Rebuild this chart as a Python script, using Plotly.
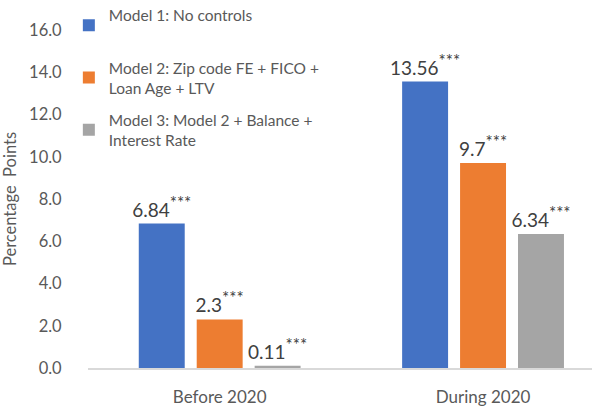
import plotly.graph_objects as go

categories = ["Before 2020", "During 2020"]
series_names = [
    "Model 1: No controls<br> ",
    "Model 2: Zip code FE + FICO +<br>Loan Age + LTV",
    "Model 3: Model 2 + Balance +<br>Interest Rate",
]
model1 = [6.84, 13.56]
model2 = [2.3, 9.7]
model3 = [0.11, 6.34]
label1 = ["6.84", "13.56"]
label2 = ["2.3", "9.7"]
label3 = ["0.11", "6.34"]
y_ticks = [0, 2, 4, 6, 8, 10, 12, 14, 16]
y_tick_text = ["0.0", "2.0", "4.0", "6.0", "8.0", "10.0", "12.0", "14.0", "16.0"]

colors = ["#4472C4", "#ED7D31", "#A5A5A5"]
FONT = "Lato, Carlito, Calibri, sans-serif"
TXT = "#595959"

fig = go.Figure()
for i, (name, vals, labs, col) in enumerate(zip(series_names, [model1, model2, model3],
                                                [label1, label2, label3], colors)):
    fig.add_trace(go.Bar(
        x=categories, y=vals, name=name,
        legendgroup="g%d" % i,
        marker=dict(color=col, line=dict(width=0)),
        text=[l + "<sup><span style='font-size:17px'>***</span></sup>" for l in labs],
        textposition="outside",
        constraintext="none",
        textfont=dict(family=FONT, size=19, color="#404040"),
        cliponaxis=False,
    ))

fig.update_layout(
    width=592, height=408,
    margin=dict(l=88, r=0, t=30, b=40, autoexpand=False),
    paper_bgcolor="white", plot_bgcolor="white",
    barmode="group", bargap=0.34, bargroupgap=0.207,
    font=dict(family=FONT, color=TXT, size=16),
    showlegend=True,
    legend=dict(
        x=-0.038, y=1.093, xanchor="left", yanchor="top",
        font=dict(family=FONT, size=15.5, color=TXT),
        bgcolor="rgba(0,0,0,0)", itemwidth=30,
        traceorder="grouped", tracegroupgap=9,
    ),
    xaxis=dict(
        type="category", range=[-0.5, 1.4137], automargin=False,
        showline=True, linecolor="#D9D9D9", linewidth=1.5,
        ticks="outside", ticklen=13, tickcolor="rgba(0,0,0,0)", showgrid=False,
        tickfont=dict(family=FONT, size=17, color=TXT),
    ),
    yaxis=dict(
        range=[0, 16], tickvals=y_ticks, ticktext=y_tick_text, automargin=False,
        showgrid=False, zeroline=False, showline=False,
        ticks="outside", ticklen=22, tickcolor="rgba(0,0,0,0)",
        tickfont=dict(family=FONT, size=16.5, color=TXT),
        title=dict(text="Percentage  Points", font=dict(family=FONT, size=16.5, color=TXT)),
    ),
)

fig.write_html("out.html", config={"displayModeBar": False},
               post_script="document.body.style.margin='0';")
